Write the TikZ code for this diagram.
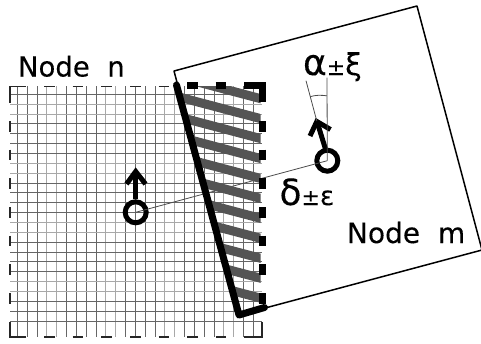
\documentclass[tikz,border=0pt]{standalone}
\usepackage{fontspec}
\setmainfont{DejaVu Sans}[FakeBold=0.2]
\newcommand{\fsz}[1]{\fontsize{#1}{#1}\selectfont}
\definecolor{griddark}{gray}{0.4}
\definecolor{gridlight}{gray}{0.66}
\definecolor{hatchgrey}{gray}{0.33}
\tikzset{
  lab/.style={inner sep=0pt,outer sep=0pt,anchor=base west,text=black},
  thick edge/.style={line width=7pt,line cap=round,line join=round,black},
  border/.style={line width=1.7pt,black!85},
  fat dash/.style={line width=7pt,black},
  stripe/.style={line width=9pt,hatchgrey},
  fine/.style={line width=0.8pt,black!70},
  marker/.style={circle,draw=black,line width=5pt,minimum size=21pt,inner sep=0pt,fill=none},
  shaft/.style={line width=5pt,black,line join=miter},
  box/.style={line width=1.5pt,black,line join=round}
}
\begin{document}
\begin{tikzpicture}[x=1pt,y=-1pt]
\useasboundingbox (0,0) rectangle (481,343);
\clip (0,0) rectangle (481,343);
% grid
\foreach \i in {0,...,24}{
  \pgfmathtruncatemacro{\r}{mod(\i,6)}
  \pgfmathsetmacro{\xx}{17.4+9.83*\i}
  \ifnum\r=3 \def\cc{gridlight}\else\ifnum\r=4 \def\cc{gridlight}\else\def\cc{griddark}\fi\fi
  \draw[\cc,line width=1pt] (\xx,86) -- (\xx,337);
}
\foreach \j in {0,...,23}{
  \pgfmathtruncatemacro{\r}{mod(\j,6)}
  \pgfmathsetmacro{\yy}{94.3+9.86*\j}
  \ifnum\r=1 \def\cc{gridlight}\else\ifnum\r=2 \def\cc{gridlight}\else\def\cc{griddark}\fi\fi
  \draw[\cc,line width=1pt] (10,\yy) -- (262,\yy);
}
% node m outline
\coordinate (mtl) at (174,71);
\coordinate (mtr) at (417,6);
\coordinate (mbr) at (482,250);
\coordinate (mbl) at (239,315);
\draw[box] (mbl) -- (mtl) -- (mtr) -- (mbr) -- cycle;
% markers' centres and link
\node[marker] (cn) at (135.7,212.3) {};
\node[marker] (cm) at (327.3,160.7) {};
\draw[fine] (cn.center) -- (cm.center);
% hatching in the overlap
\begin{scope}
  \clip (176,86) -- (260.5,86) -- (260.5,310) -- (239,316) -- cycle;
  \foreach \k in {0,...,10}{
    \pgfmathsetmacro{\ya}{98.5+19.95*\k-0.2645*110}
    \pgfmathsetmacro{\yb}{98.5+19.95*\k+0.2645*5}
    \draw[stripe] (150,\ya) -- (265,\yb);
  }
\end{scope}
% thin dashed border of node n
\draw[border] (26,86.5) -- (10,86.5) -- (10,103);
\foreach \s in {44,72.7,101.4,130,158.5,187,215.5}{
  \draw[border] (\s,86.5) -- +(10.5,0);
  \draw[border] (\s,337) -- +(10.5,0);
}
\foreach \s in {121,149.7,178.4,207,235.7,264.4,293}{
  \draw[border] (10,\s) -- +(0,10.5);
}
\draw[border] (10,322) -- (10,337) -- (26,337);
\draw[border] (244,337) -- (262,337) -- (262,322);
% thick dashed border of the overlap
\foreach \s in {187,215.5}{ \draw[fat dash] (\s,85.8) -- +(10.5,0); }
\draw[fat dash] (244,85.8) -- (262.8,85.8) -- (262.8,102);
\foreach \s in {121,149.7,178.4,207,235.7,264.4,293}{
  \draw[fat dash] (262.8,\s) -- +(0,10.5);
}
% thick edge of the overlap
\draw[thick edge] (176.5,85) -- (239,315) -- (264.5,307.5);
% arrows
\coordinate (tn) at (135.7,171);
\coordinate (wn1) at (126.5,184);
\coordinate (wn2) at (145.5,184);
\draw[shaft] (cn.north) -- (tn);
\draw[shaft] (wn1) -- (135.7,171.5) -- (wn2);
\coordinate (tm) at (316.8,121);
\coordinate (wm1) at (310,136);
\coordinate (wm2) at (330.5,129.5);
\draw[shaft] (325.5,149) -- (tm);
\draw[shaft] (wm1) -- (316.8,121.5) -- (wm2);
% angle
\coordinate (av) at (327,77.5);
\coordinate (ar) at (306,80.7);
\draw[fine] (cm.center) -- (av);
\draw[fine] (tm) -- (ar);
\draw[fine] (310.2,96.7) .. controls (315,95) and (321,95) .. (326.9,95.8);
% labels
\node[lab] (ln) at (18,76.5) {\fsz{27.5}Node\hspace{0.32em} n};
\node[lab] (lm) at (347,243) {\fsz{28}Node\hspace{0.32em} m};
\node[lab] (la) at (303,75) {\fsz{36}α\fsz{22}±\fsz{30}ξ};
\node[lab] (ld) at (279.5,205) {\fsz{36}δ\fsz{22}±\fsz{26}ε};
\end{tikzpicture}
\end{document}
